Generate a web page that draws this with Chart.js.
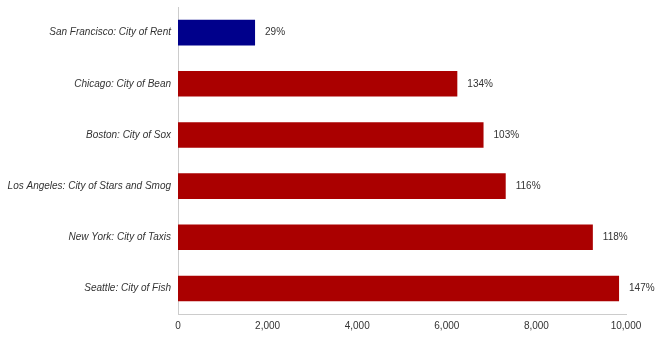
<!DOCTYPE html>
<html>
<head>
<meta charset="utf-8">
<script src="https://cdn.jsdelivr.net/npm/chart.js@4"></script>
<style>
  html, body { margin: 0; padding: 0; background: #fff; }
  #wrap { width: 659px; height: 337px; }
</style>
</head>
<body>
<div id="wrap"><canvas id="cityCanvas"></canvas></div>
<script>
var cities = [
  'San Francisco: City of Rent',
  'Chicago: City of Bean',
  'Boston: City of Sox',
  'Los Angeles: City of Stars and Smog',
  'New York: City of Taxis',
  'Seattle: City of Fish'
];
var values = [1720, 6235, 6820, 7315, 9260, 9845];
var percents = ['29%', '134%', '103%', '116%', '118%', '147%'];
var barColors = ['#00008b', '#aa0000', '#aa0000', '#aa0000', '#aa0000', '#aa0000'];
var xTicks = [0, 2000, 4000, 6000, 8000, 10000];

Chart.defaults.font.family = '"Liberation Sans", Arial, sans-serif';
Chart.defaults.font.size = 10;
Chart.defaults.color = '#333333';

// writes the percentage just past the end of each bar
var barLabels = {
  id: 'barLabels',
  afterDatasetsDraw(chart) {
    var ctx = chart.ctx;
    var meta = chart.getDatasetMeta(0);
    ctx.save();
    ctx.font = '10px "Liberation Sans", Arial, sans-serif';
    ctx.fillStyle = '#333333';
    ctx.textBaseline = 'middle';
    meta.data.forEach((bar, i) => {
      ctx.fillText(percents[i], bar.x + 10, bar.y);
    });
    ctx.restore();
  }
};

new Chart(
  document.getElementById('cityCanvas'),
  {
    type: 'bar',
    plugins: [barLabels],
    options: {
      indexAxis: 'y',
      responsive: true,
      maintainAspectRatio: false,
      animation: false,
      layout: { padding: { top: 7, right: 33, left: 0, bottom: 0 } },
      plugins: {
        legend: { display: false },
        tooltip: { enabled: false }
      },
      scales: {
        x: {
          min: 0,
          max: 10000,
          afterBuildTicks: (axis) => { axis.ticks = xTicks.map(v => ({ value: v })); },
          afterFit: (axis) => { axis.height = 23; },
          grid: { display: false, drawTicks: false },
          border: { display: true, color: '#cccccc', width: 1 },
          ticks: {
            padding: 6,
            maxRotation: 0,
            callback: (v) => v.toLocaleString('en-US')
          }
        },
        y: {
          afterFit: (axis) => {
            axis.width = 178;
            axis.paddingTop = 0;
            axis.paddingBottom = 0;
          },
          grid: { display: false, drawTicks: false },
          border: { display: true, color: '#cccccc', width: 1 },
          ticks: {
            padding: 7,
            font: { style: 'italic', size: 10 }
          }
        }
      }
    },
    data: {
      labels: cities,
      datasets: [
        {
          data: values,
          backgroundColor: barColors,
          barPercentage: 0.5,
          categoryPercentage: 1.0
        }
      ]
    }
  }
);
</script>
</body>
</html>
